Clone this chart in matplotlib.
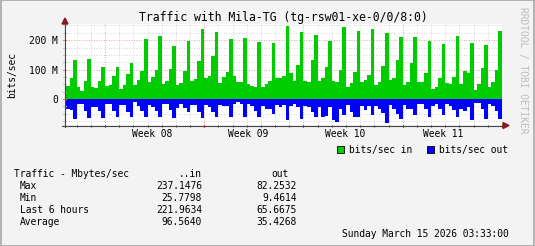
import matplotlib
matplotlib.use("Agg")
import matplotlib.pyplot as plt
import numpy as np

# traffic per 6 hour slot, Mbit/s
traffic_in = [44, 73, 133, 41, 27, 61, 137, 42, 39, 62, 109, 45, 48, 78, 109, 35,
              48, 84, 122, 48, 65, 96, 205, 58, 75, 99, 215, 51, 62, 102, 181,
              47, 54, 95, 197, 62, 68, 129, 237, 70, 78, 146, 227, 55, 76, 92, 205,
              79, 59, 59, 207, 50, 43, 41, 194, 41, 51, 61, 190, 72, 70, 78, 247,
              89, 61, 115, 228, 61, 59, 132, 217, 61, 72, 110, 197, 61, 58, 100, 245,
              42, 55, 93, 230, 59, 64, 81, 237, 47, 59, 112, 225, 64, 70, 134, 211,
              47, 59, 121, 211, 59, 59, 87, 198, 33, 42, 72, 186, 56, 50, 76, 215,
              51, 96, 89, 191, 31, 51, 104, 183, 40, 58, 100, 230]
traffic_out = [32, 37, 69, 18, 18, 41, 63, 26, 26, 41, 63, 18, 18, 41, 60, 20,
               20, 43, 60, 11, 23, 41, 60, 20, 26, 41, 60, 18, 18, 37, 63,
               29, 18, 29, 45, 20, 20, 43, 65, 20, 26, 43, 60, 20, 23, 23, 60,
               18, 11, 18, 60, 18, 23, 41, 60, 23, 34, 34, 52, 20, 26, 20, 71,
               24, 15, 28, 69, 24, 28, 43, 60, 28, 60, 58, 28, 71, 77, 32, 54,
               20, 43, 60, 62, 24, 37, 24, 54, 24, 35, 46, 82, 20, 35, 51, 69,
               20, 35, 35, 54, 17, 15, 32, 62, 24, 15, 35, 54, 17, 24, 37, 60,
               33, 40, 28, 71, 12, 12, 32, 66, 17, 24, 40, 67]

week_labels = ["Week 08", "Week 09", "Week 10", "Week 11"]
week_label_pos = [24.3, 51.3, 78.7, 106.3]

stat_rows = ["Max", "Min", "Last 6 hours", "Average"]
stat_in = ["237.1476", "25.7798", "221.9634", "96.5640"]
stat_out = ["82.2532", "9.4614", "65.6675", "35.4268"]

W, H = 535, 246
mono = "DejaVu Sans Mono"
fig = plt.figure(figsize=(W / 100, H / 100), dpi=100)
fig.patch.set_facecolor("#f3f3f3")

def fx(px):
    return px / W

def fy(py):
    return 1 - py / H

ax = fig.add_axes([fx(66), fy(125), fx(502) - fx(66), fy(24) - fy(125)])
ax.set_facecolor("white")

n = len(traffic_in)
edges = np.arange(n + 1)
ax.stairs(traffic_in, edges, baseline=0, fill=True, color="#00cc00", zorder=2)
ax.stairs(-np.array(traffic_out), edges, baseline=0, fill=True, color="#0000ff", zorder=2)

ax.set_xlim(0, n)
ax.set_ylim(-88, 255)

# grid + small ticks outside the canvas
for v in range(-75, 255, 25):
    c = "#f08080" if v % 100 == 0 else "#c8c8c8"
    ax.axhline(v, color=c, lw=0.6, ls=(0, (1, 2)), zorder=1)
    ax.plot([-0.9, 0], [v, v], color=c, lw=0.8, clip_on=False, zorder=3)
for d in range(3, n + 1, 4):
    major = (d - 11) % 28 == 0
    c = "#f08080" if major else "#c8c8c8"
    ax.axvline(d, color=c, lw=0.6, ls=(0, (1, 2)), zorder=1)
    ax.plot([d, d], [-88, -88 - (8 if major else 6)], color="#e04040" if major else "#999999",
            lw=0.8, clip_on=False, zorder=3)

for s in ax.spines.values():
    s.set_visible(False)
ax.set_xticks([])
ax.set_yticks([0, 100, 200])
ax.set_yticklabels(["0", "100 M", "200 M"], fontfamily=mono, fontsize=6.9)
ax.tick_params(axis="y", length=0, pad=6)

# axes lines with arrows
fig.add_artist(plt.Line2D([fx(65), fx(65)], [fy(127), fy(24)], color="#444444", lw=0.8))
fig.add_artist(plt.Line2D([fx(62), fx(503)], [fy(125.5), fy(125.5)], color="#444444", lw=0.8))
fig.add_artist(plt.Polygon([[fx(62), fy(24)], [fx(68), fy(24)], [fx(65), fy(18)]],
                           closed=True, color="#8b1a1a", transform=fig.transFigure))
fig.add_artist(plt.Polygon([[fx(503), fy(122.5)], [fx(503), fy(128.5)], [fx(509), fy(125.5)]],
                           closed=True, color="#8b1a1a", transform=fig.transFigure))

for lab, pos in zip(week_labels, week_label_pos):
    ax.text(pos, -0.09, lab, transform=ax.get_xaxis_transform(), ha="center",
            va="center", fontfamily=mono, fontsize=6.9)

fig.text(fx(283), fy(17), "Traffic with Mila-TG (tg-rsw01-xe-0/0/8:0)", ha="center",
         va="center", fontfamily=mono, fontsize=8.3)
fig.text(fx(12), fy(75), "bits/sec", rotation=90, ha="center", va="center",
         fontfamily=mono, fontsize=6.9)
fig.text(fx(523), fy(70), "RRDTOOL / TOBI OETIKER", rotation=270, ha="center",
         va="center", fontfamily=mono, fontsize=6.9, color="#bdbdbd")

# legend
fig.add_artist(plt.Rectangle((fx(337), fy(153)), fx(7), fy(146) - fy(153),
                             facecolor="#00cc00", edgecolor="black", lw=0.6))
fig.text(fx(349), fy(149.5), "bits/sec in", va="center", fontfamily=mono, fontsize=6.9)
fig.add_artist(plt.Rectangle((fx(427), fy(153)), fx(7), fy(146) - fy(153),
                             facecolor="#0000ff", edgecolor="black", lw=0.6))
fig.text(fx(439), fy(149.5), "bits/sec out", va="center", fontfamily=mono, fontsize=6.9)

# stats table
fig.text(fx(14), fy(174), "Traffic - Mbytes/sec", va="center", fontfamily=mono, fontsize=6.9)
fig.text(fx(202), fy(174), "..in", va="center", ha="right", fontfamily=mono, fontsize=6.9)
fig.text(fx(289), fy(174), "out", va="center", ha="right", fontfamily=mono, fontsize=6.9)
for i, (r, a, b) in enumerate(zip(stat_rows, stat_in, stat_out)):
    yy = 186 + i * 12
    fig.text(fx(20), fy(yy), r, va="center", fontfamily=mono, fontsize=6.9)
    fig.text(fx(202), fy(yy), a, va="center", ha="right", fontfamily=mono, fontsize=6.9)
    fig.text(fx(297), fy(yy), b, va="center", ha="right", fontfamily=mono, fontsize=6.9)
fig.text(fx(509), fy(234), "Sunday March 15 2026 03:33:00", va="center", ha="right",
         fontfamily=mono, fontsize=6.9)

# frame
fig.add_artist(plt.Rectangle((0.001, 0.002), 0.997, 0.996, fill=False,
                             edgecolor="#a8a8a8", lw=1.2, transform=fig.transFigure))

fig.savefig("out.png", dpi=100, facecolor=fig.get_facecolor())
plt.close()
